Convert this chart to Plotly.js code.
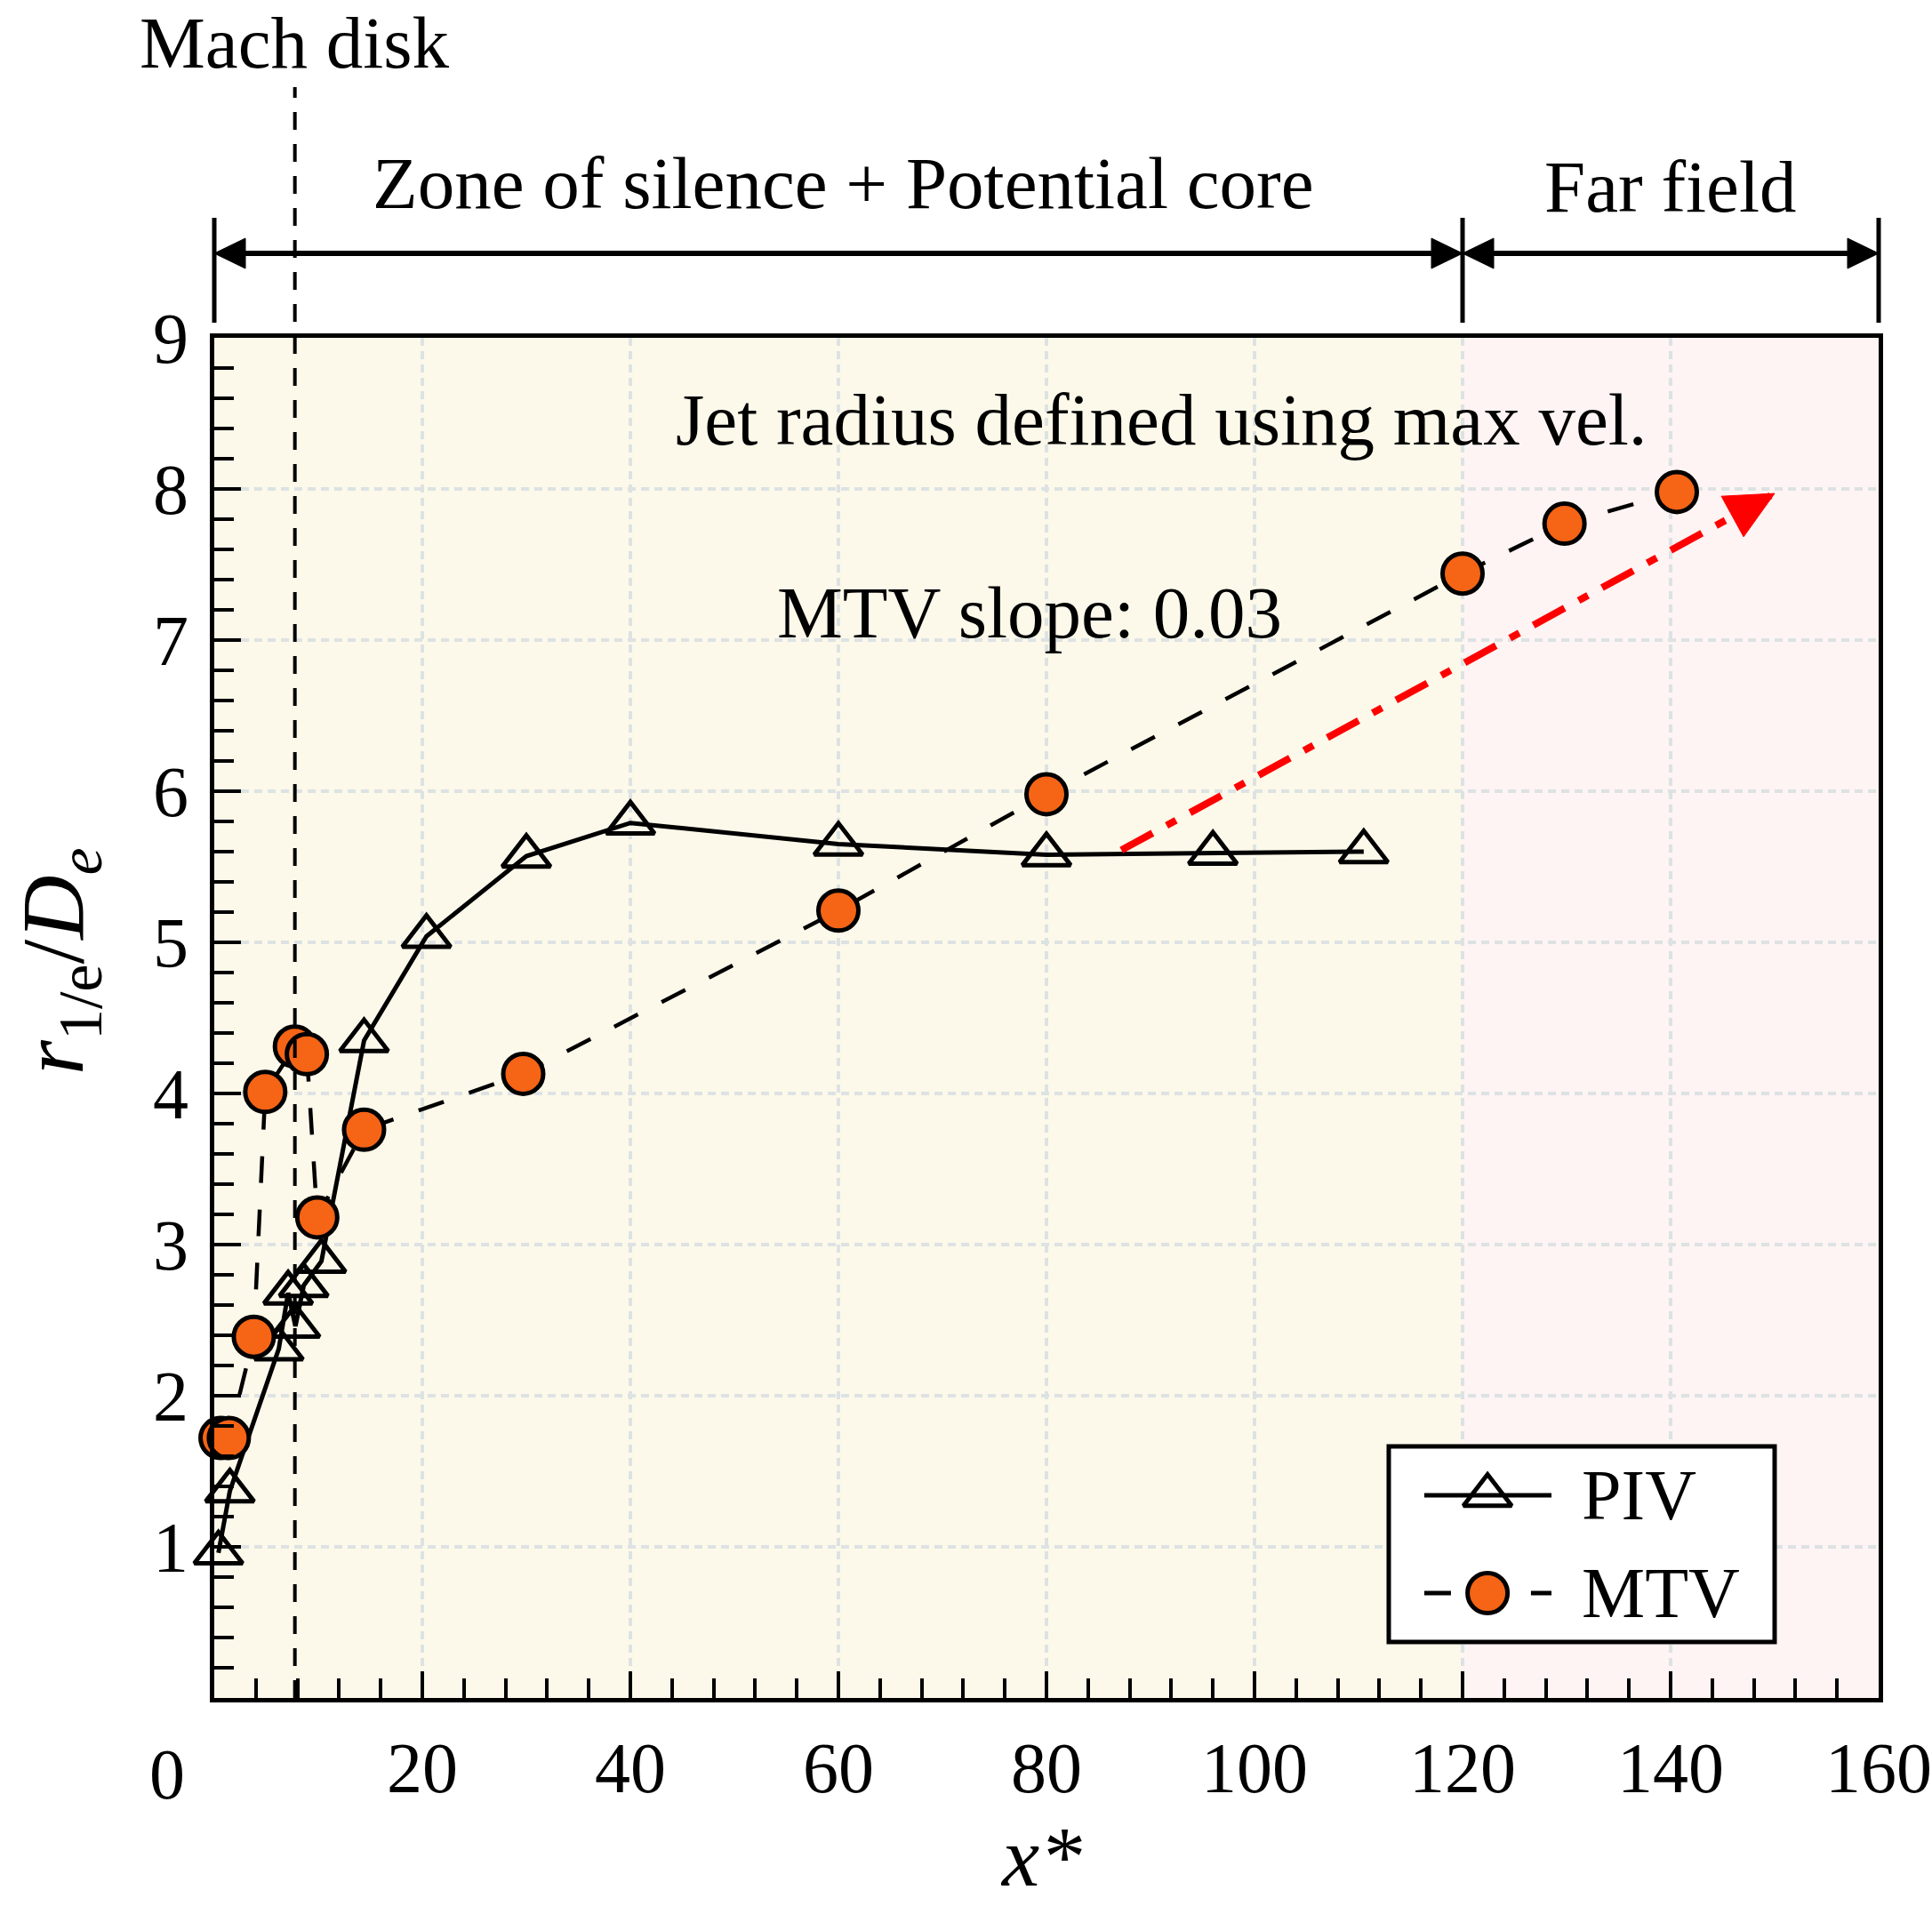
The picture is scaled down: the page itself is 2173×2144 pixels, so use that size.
<!DOCTYPE html>
<html>
<head>
<meta charset="utf-8">
<script src="https://cdn.plot.ly/plotly-3.0.1.min.js"></script>
<style>html,body{margin:0;padding:0;background:#fff;}</style>
</head>
<body>
<div id="chart" style="width:2173px;height:2144px;"></div>
<script>
// ---------------- data ----------------
const pivX = [0.4, 1.5, 6.2, 7.1, 7.8, 8.6, 10.3, 14.4, 20.4, 30, 40, 60, 80, 96, 110.5];
const pivY = [0.96, 1.37, 2.31, 2.68, 2.46, 2.73, 2.89, 4.35, 5.04, 5.57, 5.79, 5.65, 5.58, 5.59, 5.60];

const mtvX = [0.6, 1.4, 3.8, 4.9, 7.75, 8.9, 9.9, 14.4, 29.7, 60, 80, 120, 129.8, 140.6];
const mtvY = [1.72, 1.72, 2.39, 4.01, 4.31, 4.26, 3.18, 3.76, 4.13, 5.21, 5.98, 7.44, 7.77, 7.98];

const slopeX = [87.2, 150];
const slopeY = [5.61, 7.97];

const machX = 7.75;
const zoneBounds = [0, 120, 160];

const xTickVals = [20, 40, 60, 80, 100, 120, 140, 160];
const xTickText = ['20', '40', '60', '80', '100', '120', '140', '160'];
const xCornerLabel = '0';
const yTickVals = [1, 2, 3, 4, 5, 6, 7, 8, 9];

const seriesNames = ['PIV', 'MTV'];

// ---------------- geometry ----------------
const W = 2173, H = 2144;
const M = {l: 241, r: 60, t: 380, b: 234};
const plotW = W - M.l - M.r, plotH = H - M.t - M.b;
const xRange = [0, 160], yRange = [0, 9];
const px2paperX = p => (p - M.l) / plotW;
const px2paperY = p => (H - M.b - p) / plotH;
const dataX2paper = v => (v - xRange[0]) / (xRange[1] - xRange[0]);

const FONT = 'Liberation Serif, Times New Roman, serif';
const ORANGE = '#F66415';

// legend box (pixel frame)
const lgBox = {x0: 1562, x1: 1996, y0: 1627, y1: 1847};
const pad = 0.05;
const lgW = lgBox.x1 - lgBox.x0, lgH = lgBox.y1 - lgBox.y0;
const lgDomX = [px2paperX(lgBox.x0 - pad * lgW), px2paperX(lgBox.x1 + pad * lgW)];
const lgDomY = [px2paperY(lgBox.y1 + pad * lgH), px2paperY(lgBox.y0 - pad * lgH)];
const lgRowY = [0.75, 0.25];
const lgLineX = [0.092, 0.256, 0.4217];
const lgTextX = 0.495;

// ---------------- traces ----------------
const traces = [
  {
    x: pivX, y: pivY, name: seriesNames[0], type: 'scatter', mode: 'lines+markers',
    line: {color: '#000', width: 5},
    marker: {symbol: 'triangle-up-open', size: 47, color: '#000', line: {color: '#000', width: 5}},
    showlegend: false, cliponaxis: false
  },
  {
    x: mtvX, y: mtvY, name: seriesNames[1], type: 'scatter', mode: 'lines+markers',
    line: {color: '#000', width: 4.5, dash: '30px,30px'},
    marker: {symbol: 'circle', size: 45, color: ORANGE, line: {color: '#000', width: 5}},
    showlegend: false, cliponaxis: false
  },
  {
    x: slopeX, y: slopeY, type: 'scatter', mode: 'lines',
    line: {color: '#FF0000', width: 8, dash: '40px,18px,12px,18px'},
    showlegend: false, hoverinfo: 'skip'
  },
  // legend samples (on the legend's own axes)
  {
    x: lgLineX, y: lgLineX.map(() => lgRowY[0]), xaxis: 'x2', yaxis: 'y2',
    type: 'scatter', mode: 'lines+markers', showlegend: false, hoverinfo: 'skip',
    line: {color: '#000', width: 5},
    marker: {symbol: 'triangle-up-open', size: 47, color: '#000', opacity: [0, 1, 0], line: {color: '#000', width: 5}}
  },
  {
    x: lgLineX, y: lgLineX.map(() => lgRowY[1]), xaxis: 'x2', yaxis: 'y2',
    type: 'scatter', mode: 'lines+markers', showlegend: false, hoverinfo: 'skip',
    line: {color: '#000', width: 5, dash: '30px,90px'},
    marker: {symbol: 'circle', size: 45, color: ORANGE, opacity: [0, 1, 0], line: {color: '#000', width: 5}}
  }
];

// slope arrow head (pixel-sized path anchored at the arrow tip)
const pxPerX = plotW / (xRange[1] - xRange[0]);
const pxPerY = plotH / (yRange[1] - yRange[0]);
const dxp = (slopeX[1] - slopeX[0]) * pxPerX;
const dyp = (slopeY[1] - slopeY[0]) * pxPerY;
const Ld = Math.hypot(dxp, dyp);
const ux = dxp / Ld, uy = dyp / Ld;
const headLen = 54, headHalf = 26;
const bx = -ux * headLen, by = -uy * headLen;
const pxn = -uy, pyn = ux;
const redHeadPath = 'M0,0 L' + (bx + pxn * headHalf).toFixed(1) + ',' + (by + pyn * headHalf).toFixed(1) +
  ' L' + (bx - pxn * headHalf).toFixed(1) + ',' + (by - pyn * headHalf).toFixed(1) + ' Z';

const topArrowY = px2paperY(285);
const barY0 = px2paperY(363), barY1 = px2paperY(245);
const bHead = 35, bHalf = 17;
const headLeft = 'M0,0 L' + bHead + ',' + bHalf + ' L' + bHead + ',' + (-bHalf) + ' Z';
const headRight = 'M0,0 L' + (-bHead) + ',' + bHalf + ' L' + (-bHead) + ',' + (-bHalf) + ' Z';

const shapes = [
  {type: 'rect', xref: 'x', yref: 'paper', x0: zoneBounds[0], x1: zoneBounds[1], y0: 0, y1: 1,
   fillcolor: '#FCF9EA', line: {width: 0}, layer: 'below'},
  {type: 'rect', xref: 'x', yref: 'paper', x0: zoneBounds[1], x1: zoneBounds[2], y0: 0, y1: 1,
   fillcolor: '#FDF4F3', line: {width: 0}, layer: 'below'},
  // Mach disk line
  {type: 'line', xref: 'paper', yref: 'paper', x0: dataX2paper(machX), x1: dataX2paper(machX),
   y0: 0, y1: px2paperY(98), line: {color: '#000', width: 4, dash: '20px,16px'}, layer: 'above'},
  // legend box
  {type: 'rect', xref: 'x2', yref: 'y2', x0: 0, x1: 1, y0: 0, y1: 1,
   fillcolor: '#FFFFFF', line: {color: '#000', width: 5}, layer: 'below'},
  // slope arrow head
  {type: 'path', xref: 'x', yref: 'y', xsizemode: 'pixel', ysizemode: 'pixel',
   xanchor: slopeX[1], yanchor: slopeY[1], path: redHeadPath,
   fillcolor: '#FF0000', line: {color: '#FF0000', width: 1}, layer: 'above'}
];
// zone boundary bars
zoneBounds.forEach(b => shapes.push({
  type: 'line', xref: 'paper', yref: 'paper', x0: dataX2paper(b), x1: dataX2paper(b),
  y0: barY0, y1: barY1, line: {color: '#000', width: 5}
}));
// zone double arrows
for (let i = 0; i < zoneBounds.length - 1; i++) {
  const a = dataX2paper(zoneBounds[i]) , b = dataX2paper(zoneBounds[i + 1]);
  shapes.push({type: 'line', xref: 'paper', yref: 'paper', x0: a + 0.008, x1: b - 0.008,
    y0: topArrowY, y1: topArrowY, line: {color: '#000', width: 6}});
  shapes.push({type: 'path', xref: 'paper', yref: 'paper', xsizemode: 'pixel', ysizemode: 'pixel',
    xanchor: a, yanchor: topArrowY, path: headLeft, fillcolor: '#000', line: {color: '#000', width: 1}});
  shapes.push({type: 'path', xref: 'paper', yref: 'paper', xsizemode: 'pixel', ysizemode: 'pixel',
    xanchor: b, yanchor: topArrowY, path: headRight, fillcolor: '#000', line: {color: '#000', width: 1}});
}

const txt = (size) => ({family: FONT, size: size, color: '#000'});

const annotations = [
  {xref: 'x', yref: 'paper', x: machX, y: px2paperY(0), text: 'Mach disk', showarrow: false,
   font: txt(83), xanchor: 'center', yanchor: 'top'},
  {xref: 'x', yref: 'paper', x: 60.5, y: px2paperY(206), text: 'Zone of silence + Potential core', showarrow: false,
   font: txt(83), xanchor: 'center', yanchor: 'middle'},
  {xref: 'x', yref: 'paper', x: 140, y: px2paperY(210), text: 'Far field', showarrow: false,
   font: txt(83), xanchor: 'center', yanchor: 'middle'},
  {xref: 'x', yref: 'y', x: 91.1, y: 8.46, text: 'Jet radius defined using max vel.', showarrow: false,
   font: txt(83), xanchor: 'center', yanchor: 'middle'},
  {xref: 'x', yref: 'y', x: 78.4, y: 7.18, text: 'MTV slope: 0.03', showarrow: false,
   font: txt(83), xanchor: 'center', yanchor: 'middle'},
  // x "0" corner label
  {xref: 'paper', yref: 'paper', x: px2paperX(188), y: px2paperY(1996), text: xCornerLabel, showarrow: false,
   font: txt(80), xanchor: 'center', yanchor: 'middle'},
  // x axis title
  {xref: 'paper', yref: 'paper', x: px2paperX(1171), y: px2paperY(2144), text: '<i>x*</i>', showarrow: false,
   font: txt(95), xanchor: 'center', yanchor: 'bottom'},
  // y axis title
  {xref: 'paper', yref: 'paper', x: px2paperX(66), y: px2paperY(1081), textangle: -90,
   text: '<i>r</i><sub>1/e</sub>/<i>D</i><sub><i>e</i></sub>', showarrow: false,
   font: txt(100), xanchor: 'center', yanchor: 'middle'},
  // legend labels
  {xref: 'x2', yref: 'y2', x: lgTextX, y: lgRowY[0], text: seriesNames[0], showarrow: false,
   font: txt(80), xanchor: 'left', yanchor: 'middle'},
  {xref: 'x2', yref: 'y2', x: lgTextX, y: lgRowY[1], text: seriesNames[1], showarrow: false,
   font: txt(80), xanchor: 'left', yanchor: 'middle'}
];

const layout = {
  width: W, height: H,
  margin: M,
  paper_bgcolor: '#FFFFFF',
  plot_bgcolor: 'rgba(0,0,0,0)',
  font: {family: FONT, size: 80, color: '#000'},
  showlegend: false,
  xaxis: {
    range: xRange, tickmode: 'array', tickvals: xTickVals, ticktext: xTickText,
    ticks: 'inside', ticklen: 30, tickwidth: 4, tickcolor: '#000',
    showline: true, linewidth: 5, linecolor: '#000', mirror: true,
    showgrid: true, gridcolor: '#DDE2E3', gridwidth: 4, griddash: '9px,6px',
    zeroline: false, ticklabelstandoff: 5,
    tickfont: {family: FONT, size: 80, color: '#000'},
    minor: {ticks: 'inside', ticklen: 22, tickwidth: 4, tickcolor: '#000', dtick: 4, tick0: 0, showgrid: false}
  },
  yaxis: {
    range: yRange, tickmode: 'array', tickvals: yTickVals,
    ticks: 'inside', ticklen: 30, tickwidth: 4, tickcolor: '#000',
    showline: true, linewidth: 5, linecolor: '#000', mirror: true,
    showgrid: true, gridcolor: '#DDE2E3', gridwidth: 4, griddash: '9px,6px',
    zeroline: false, ticklabelstandoff: 8,
    tickfont: {family: FONT, size: 80, color: '#000'},
    minor: {ticks: 'inside', ticklen: 22, tickwidth: 4, tickcolor: '#000', dtick: 0.2, tick0: 0, showgrid: false}
  },
  xaxis2: {domain: lgDomX, range: [-pad, 1 + pad], visible: false, anchor: 'y2', fixedrange: true},
  yaxis2: {domain: lgDomY, range: [-pad, 1 + pad], visible: false, anchor: 'x2', fixedrange: true},
  shapes: shapes,
  annotations: annotations
};

Plotly.newPlot('chart', traces, layout, {staticPlot: true, displayModeBar: false});
</script>
</body>
</html>
